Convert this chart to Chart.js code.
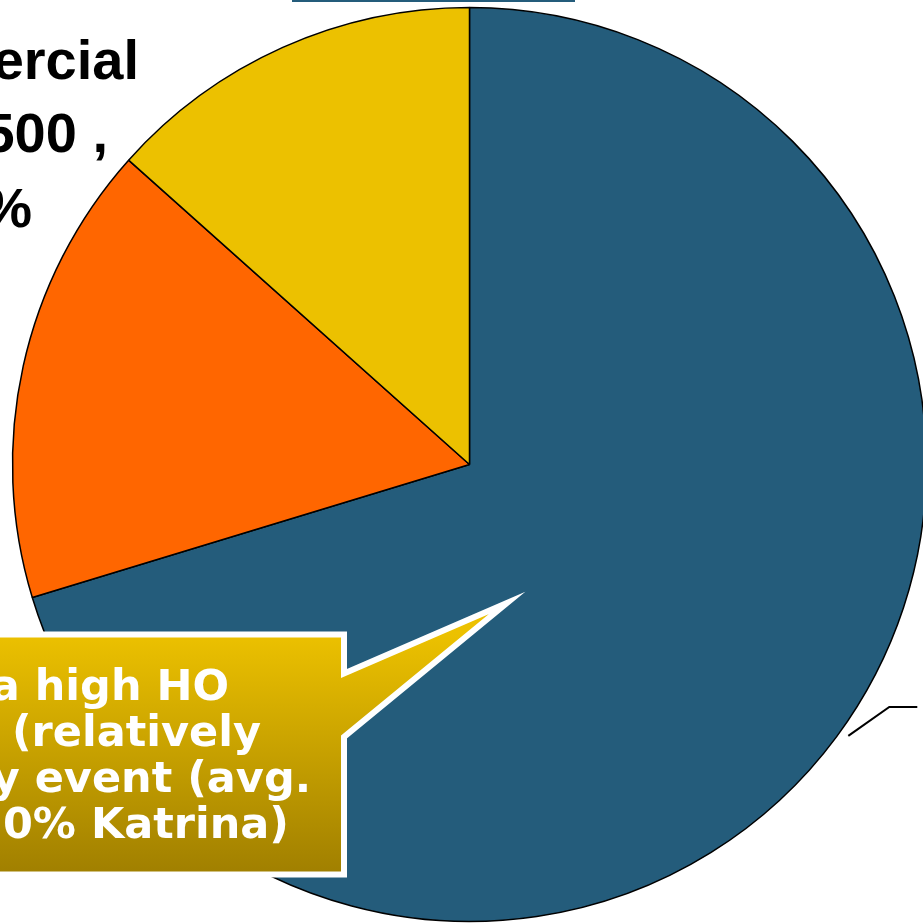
<!DOCTYPE html>
<html>
<head>
<meta charset="utf-8">
<script src="https://cdn.jsdelivr.net/npm/chart.js@4/dist/chart.umd.min.js"></script>
<style>
  html, body { margin: 0; padding: 0; background: #ffffff; overflow: hidden; }
  #frame { position: relative; width: 923px; height: 924px; overflow: hidden; }
  #pie { position: absolute; left: 0; top: 0; }
</style>
</head>
<body>
<div id="frame"><canvas id="pie" width="960" height="960"></canvas></div>
<script>
// Loss share by line of business (percent of total)
const categories = ['Homeowners', 'Other lines', 'Commercial'];
const sharePct = [70.3, 16.3, 13.4];
const sliceColors = ['#245C7B', '#FF6600', '#ECC100'];

// Text fragments shown on the page
const commercialLabelLines = ['ercial', '500 ,', '%'];
const calloutLines = ['a high HO', '(relatively', 'y event (avg.', '0% Katrina)'];

const overlayPlugin = {
  id: 'overlay',
  afterDatasetsDraw(chart) {
    const ctx = chart.ctx;
    const arc = chart.getDatasetMeta(0).data[0];
    const p = arc.getProps(['x', 'y', 'startAngle', 'endAngle', 'outerRadius'], true);

    ctx.save();

    // thin title rule at the top
    ctx.fillStyle = '#245C7B';
    ctx.fillRect(292, 0, 283, 2);

    // leader line from the largest slice toward its (off-page) label
    const mid = (p.startAngle + p.endAngle) / 2 - 0.016;
    const sx = p.x + Math.cos(mid) * (p.outerRadius + 9);
    const sy = p.y + Math.sin(mid) * (p.outerRadius + 9);
    ctx.strokeStyle = '#000000';
    ctx.lineWidth = 2;
    ctx.beginPath();
    ctx.moveTo(sx, sy);
    ctx.lineTo(sx + 41, sy - 29);
    ctx.lineTo(sx + 69, sy - 29);
    ctx.stroke();

    // commercial slice label
    ctx.fillStyle = '#000000';
    ctx.font = 'bold 56px "Liberation Sans", Arial, sans-serif';
    ctx.textAlign = 'right';
    ctx.textBaseline = 'alphabetic';
    const cRight = [139, 108, 32];
    const cBase = [79, 152, 227];
    commercialLabelLines.forEach((t, i) => ctx.fillText(t, cRight[i], cBase[i]));

    // callout box with pointer
    const grad = ctx.createLinearGradient(0, 634, 0, 875);
    grad.addColorStop(0, '#ECC100');
    grad.addColorStop(1, '#A07F00');
    ctx.beginPath();
    ctx.moveTo(-20, 634.5);
    ctx.lineTo(344, 634.5);
    ctx.lineTo(344, 673.5);
    ctx.lineTo(507, 603);
    ctx.lineTo(344, 737);
    ctx.lineTo(344, 874.5);
    ctx.lineTo(-20, 874.5);
    ctx.closePath();
    ctx.fillStyle = grad;
    ctx.fill();
    ctx.lineJoin = 'miter';
    ctx.miterLimit = 12;
    ctx.lineWidth = 6;
    ctx.strokeStyle = '#ffffff';
    ctx.stroke();

    ctx.fillStyle = '#ffffff';
    ctx.font = 'bold 43px "DejaVu Sans", Verdana, sans-serif';
    ctx.textAlign = 'right';
    const tRight = [229, 261, 311, 289];
    const tBase = [700, 746, 792, 838];
    calloutLines.forEach((t, i) => ctx.fillText(t, tRight[i], tBase[i]));

    ctx.restore();
  }
};

new Chart(document.getElementById('pie'), {
  type: 'pie',
  data: {
    labels: categories,
    datasets: [{
      data: sharePct,
      backgroundColor: sliceColors,
      borderColor: '#000000',
      borderWidth: 1.5,
      borderAlign: 'center'
    }]
  },
  options: {
    responsive: false,
    devicePixelRatio: 1,
    animation: false,
    radius: 457,
    layout: { padding: { left: 12, top: 7, right: 33, bottom: 38 } },
    plugins: {
      legend: { display: false },
      tooltip: { enabled: false }
    }
  },
  plugins: [overlayPlugin]
});
</script>
</body>
</html>
